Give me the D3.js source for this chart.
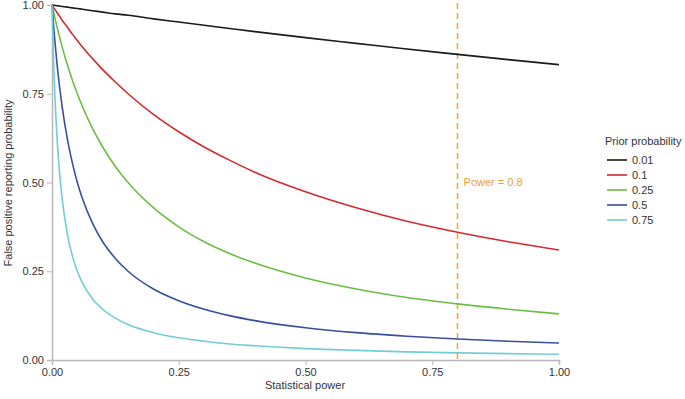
<!DOCTYPE html>
<html><head><meta charset="utf-8">
<script src="https://cdn.jsdelivr.net/npm/d3@7"></script>
<style>body{margin:0;background:#fff;font-family:"Liberation Sans",Arial,sans-serif;}</style>
</head><body><svg id="c" width="685" height="399"></svg>
<script>
const power = [0, 0.0025, 0.005, 0.01, 0.015, 0.02, 0.03, 0.04, 0.05, 0.06, 0.08, 0.1, 0.125, 0.15, 0.2, 0.25, 0.3, 0.35, 0.4, 0.5, 0.6, 0.7, 0.8, 0.9, 1.0];
const prior001 = [1, 0.9995, 0.999, 0.998, 0.997, 0.996, 0.994, 0.992, 0.990, 0.988, 0.984, 0.980, 0.975, 0.971, 0.961, 0.952, 0.943, 0.934, 0.925, 0.908, 0.892, 0.876, 0.861, 0.846, 0.832];
const prior01  = [1, 0.994, 0.989, 0.978, 0.968, 0.957, 0.938, 0.918, 0.900, 0.882, 0.849, 0.818, 0.783, 0.750, 0.692, 0.643, 0.600, 0.563, 0.529, 0.474, 0.429, 0.391, 0.360, 0.333, 0.310];
const prior025 = [1, 0.984, 0.968, 0.938, 0.909, 0.882, 0.833, 0.789, 0.750, 0.714, 0.652, 0.600, 0.545, 0.500, 0.429, 0.375, 0.333, 0.300, 0.273, 0.231, 0.200, 0.176, 0.158, 0.143, 0.130];
const prior05  = [1, 0.952, 0.909, 0.833, 0.769, 0.714, 0.625, 0.556, 0.500, 0.455, 0.385, 0.333, 0.286, 0.250, 0.200, 0.167, 0.143, 0.125, 0.111, 0.091, 0.077, 0.067, 0.059, 0.053, 0.048];
const prior075 = [1, 0.870, 0.769, 0.625, 0.526, 0.455, 0.357, 0.294, 0.250, 0.217, 0.172, 0.143, 0.118, 0.100, 0.077, 0.0625, 0.053, 0.045, 0.040, 0.032, 0.027, 0.023, 0.020, 0.018, 0.016];
const seriesNames = ["0.01", "0.1", "0.25", "0.5", "0.75"];
const seriesValues = [prior001, prior01, prior025, prior05, prior075];
const colors = ["#1a1a1a", "#d42a2f", "#6dbd45", "#3a4e9e", "#70cdd6"];
const tickValues = [0, 0.25, 0.5, 0.75, 1];
const markerPower = 0.8;

const svg = d3.select("#c");
const x = d3.scaleLinear().domain([0, 1]).range([52, 559]);
const y = d3.scaleLinear().domain([0, 1]).range([360, 5]);
const axisColor = "#b8b8b8";
const fmt = d3.format(".2f");

const gx = svg.append("g").attr("transform", "translate(0,360)")
  .call(d3.axisBottom(x).tickValues(tickValues).tickFormat(fmt).tickSize(5).tickPadding(3));
const gy = svg.append("g").attr("transform", "translate(52,0)")
  .call(d3.axisLeft(y).tickValues(tickValues).tickFormat(fmt).tickSize(5).tickPadding(3));
[gx, gy].forEach(g => {
  g.select(".domain").attr("stroke", axisColor).attr("stroke-width", 1.5);
  g.selectAll(".tick line").attr("stroke", axisColor);
  g.selectAll(".tick text").attr("fill", "#333").attr("font-size", 11).attr("font-family", "Liberation Sans, Arial, sans-serif");
});

svg.append("text").attr("x", 305).attr("y", 389).attr("text-anchor", "middle")
  .attr("font-size", 11).attr("fill", "#333").text("Statistical power");
svg.append("text").attr("transform", "translate(12,183) rotate(-90)").attr("text-anchor", "middle")
  .attr("font-size", 11).attr("fill", "#333").text("False positive reporting probability");

// dashed marker
const mx = Math.round(x(markerPower)) - 0.5;
svg.append("line").attr("x1", mx).attr("x2", mx).attr("y1", y(1) - 2).attr("y2", y(0))
  .attr("stroke", "#f5a21f").attr("stroke-width", 1.5).attr("stroke-dasharray", "6,4");
svg.append("text").attr("x", x(markerPower) + 6).attr("y", 186).attr("font-size", 11)
  .attr("fill", "#f0a030").text("Power = 0.8");

const line = d3.line().curve(d3.curveMonotoneX).x(d => x(d[0])).y(d => y(d[1]));
seriesValues.forEach((vals, i) => {
  svg.append("path").datum(power.map((p, j) => [p, vals[j]]))
    .attr("d", line).attr("fill", "none").attr("stroke", colors[i]).attr("stroke-width", 1.6);
});

// legend
svg.append("text").attr("x", 605).attr("y", 145).attr("font-size", 11).attr("fill", "#333").text("Prior probability");
seriesNames.forEach((n, i) => {
  const yy = 160 + i * 15;
  svg.append("line").attr("x1", 607).attr("x2", 627).attr("y1", yy).attr("y2", yy)
    .attr("stroke", colors[i]).attr("stroke-width", 1.6);
  svg.append("text").attr("x", 632).attr("y", yy + 4).attr("font-size", 11).attr("fill", "#333").text(n);
});
</script></body></html>
